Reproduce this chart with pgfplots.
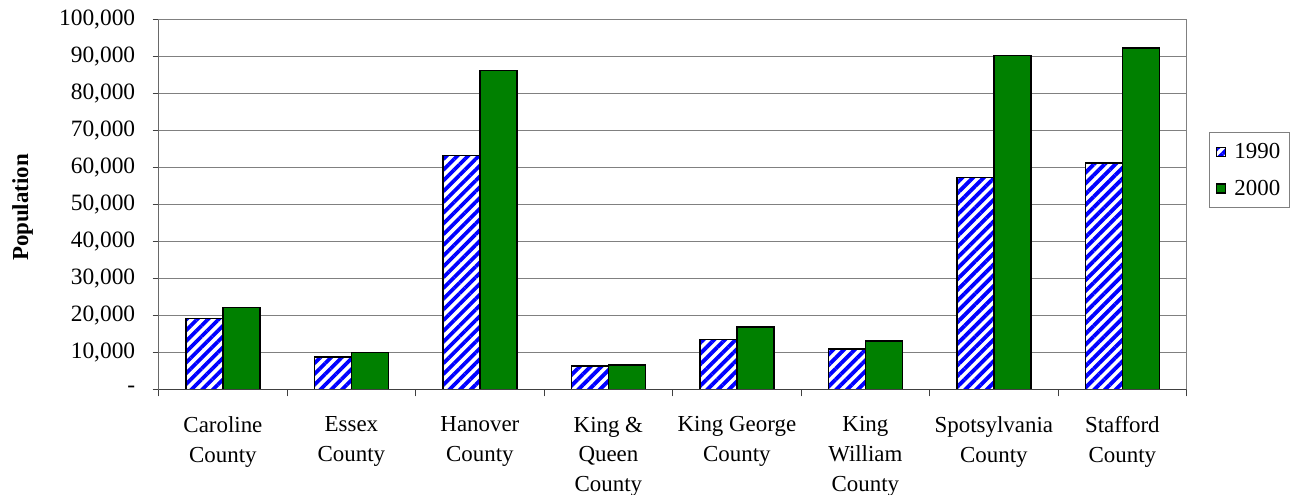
\documentclass[border=0pt]{standalone}
\usepackage{fontspec}
\setmainfont{Liberation Serif}
\usepackage{pgfplots}
\pgfplotsset{compat=1.18}
\usetikzlibrary{patterns.meta}
\definecolor{exgreen}{RGB}{0,128,0}
\definecolor{gridgray}{RGB}{128,128,128}
\definecolor{axdark}{RGB}{64,64,64}
\begin{document}
\begin{tikzpicture}
\useasboundingbox (0bp,0bp) rectangle (1296bp,495bp);
\begin{axis}[
  at={(158.7bp,105.7bp)}, anchor=south west,
  scale only axis, width=1028bp, height=369.3bp,
  xmin=-0.5, xmax=7.5, ymin=0, ymax=100000,
  scaled y ticks=false,
  ybar=0pt, bar width=37bp,
  xtick={0,...,7},
  xticklabels={{Caroline\\County},{Essex\\County},{Hanover\\County},{King \&\\Queen\\County},{King George\\County},{King\\William\\County},{Spotsylvania\\County},{Stafford\\County}},
  x tick label style={align=center, font=\fontsize{23}{30}\selectfont, anchor=north, yshift=-18bp},
  major x tick style={draw=none},
  minor xtick={-0.5,0.5,...,7.5},
  minor tick length=7bp,
  minor x tick style={axdark, line width=1bp},
  ytick={0,10000,...,100000},
  yticklabels={{-\hspace{23bp}},{10,000},{20,000},{30,000},{40,000},{50,000},{60,000},{70,000},{80,000},{90,000},{100,000}},
  y tick label style={font=\fontsize{23.5}{26}\selectfont, anchor=east, xshift=-14bp},
  major tick length=6bp,
  tick align=outside,
  xtick pos=bottom, ytick pos=left,
  major y tick style={axdark, line width=1bp},
  ymajorgrids,
  major grid style={gridgray, line width=1bp},
  axis line style={gridgray, line width=1bp},
  legend style={at={(1.0214,0.6975)}, anchor=north west, draw=gridgray, line width=0.8bp,
    font=\fontsize{23}{26}\selectfont, inner xsep=7bp, inner ysep=9bp, row sep=16bp,
    /tikz/every odd column/.append style={column sep=6bp}},
  legend cell align=left,
  legend image code/.code={\draw[#1, line width=1.5bp] (0bp,-5bp) rectangle (9bp,4bp);},
]
\addplot[draw=black, line width=1.5bp, preaction={fill=white},
  pattern={Lines[angle=45,distance=7.6bp,line width=3.8bp]}, pattern color=blue]
  coordinates {(0,19217) (1,8689) (2,63306) (3,6289) (4,13527) (5,10913) (6,57403) (7,61236)};
\addlegendentry{1990}
\addplot[draw=black, line width=1.5bp, fill=exgreen]
  coordinates {(0,22121) (1,9989) (2,86320) (3,6630) (4,16803) (5,13146) (6,90395) (7,92446)};
\addlegendentry{2000}
\draw[axdark, line width=1bp] (rel axis cs:0,1) -- (rel axis cs:0,0) -- (rel axis cs:1,0);
\end{axis}
\node[rotate=90, font=\bfseries\fontsize{23}{26}\selectfont] at (22.5bp,287.5bp) {Population};
\end{tikzpicture}
\end{document}
